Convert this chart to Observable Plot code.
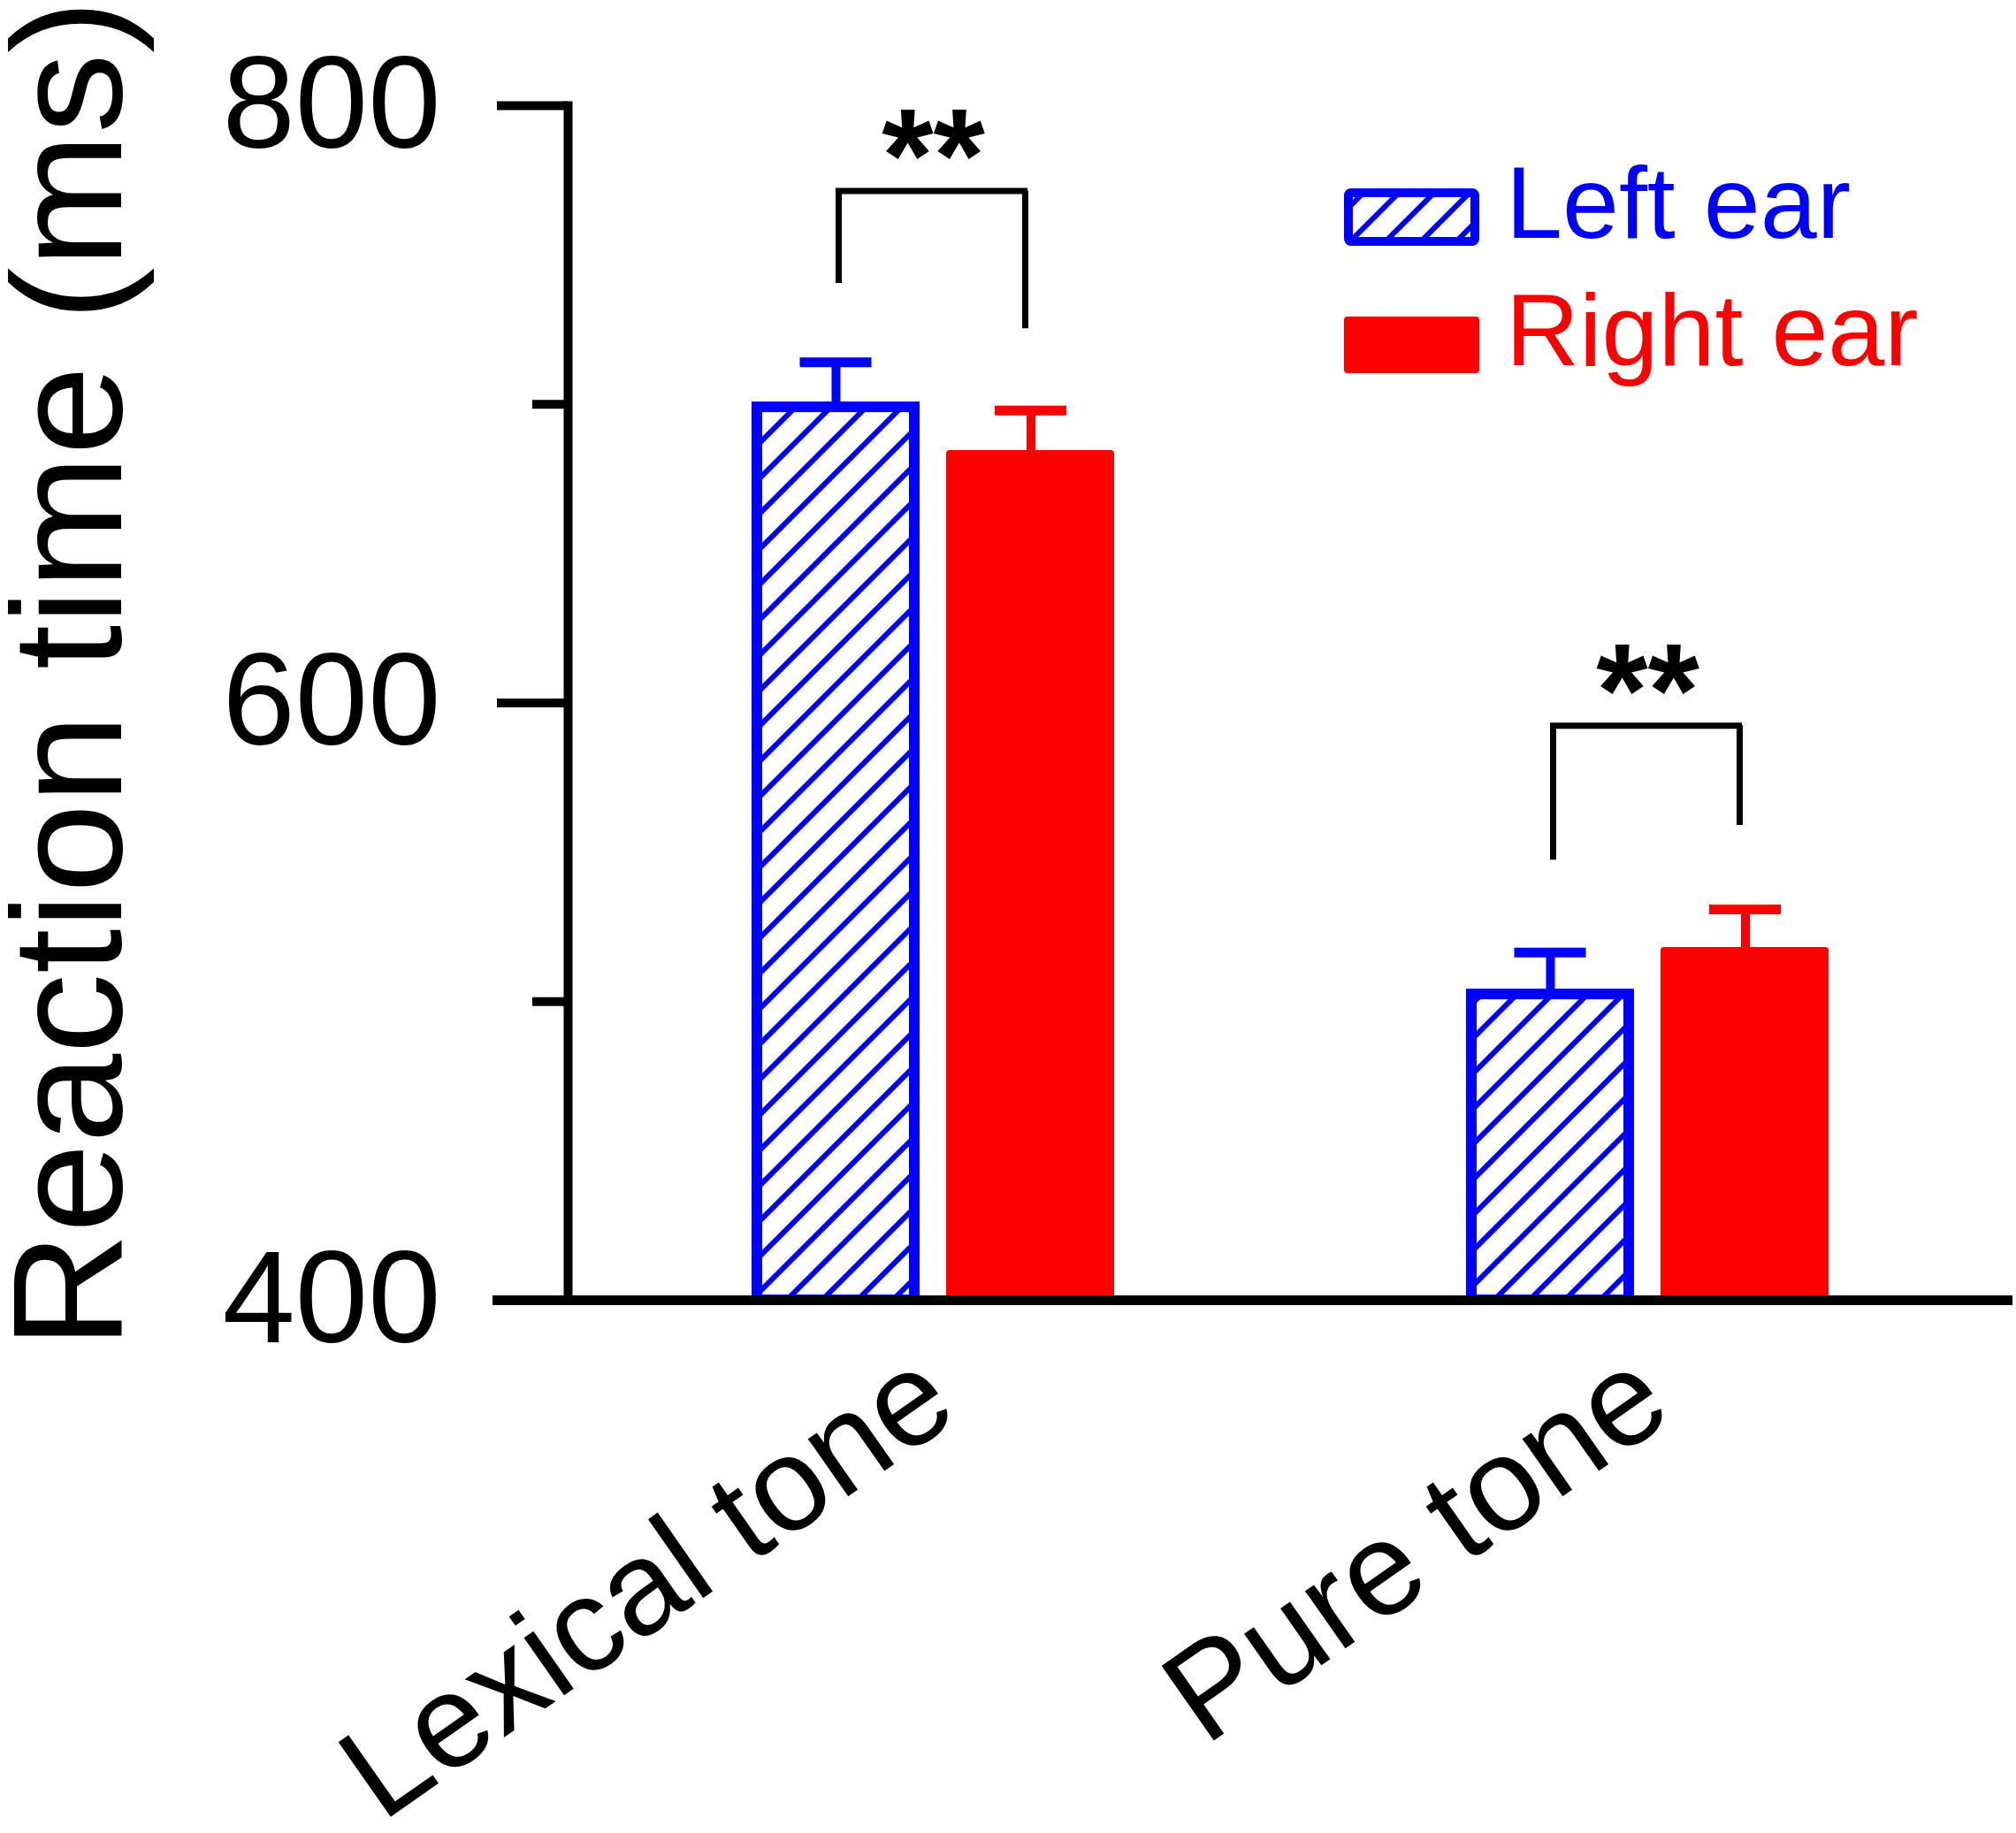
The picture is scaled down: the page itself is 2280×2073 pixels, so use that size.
<!DOCTYPE html>
<html>
<head>
<meta charset="utf-8">
<script src="https://cdn.jsdelivr.net/npm/d3@7"></script>
<script src="https://cdn.jsdelivr.net/npm/@observablehq/plot@0.6"></script>
<style>
  html, body { margin: 0; padding: 0; background: #fff; overflow: hidden; }
</style>
</head>
<body>
<div id="chart"></div>
<script>
// ---- data ----
const categories = ["Lexical tone", "Pure tone"];
const ears = ["Left ear", "Right ear"];
const leftMean = [699.0, 502.4];
const leftSE = [15.1, 14.0];
const rightMean = [684.5, 518.1];
const rightSE = [13.4, 12.8];
const bracketTop = [771.4, 592.4];
const bracketLeftEnd = [740.5, 547.4];
const bracketRightEnd = [725.3, 559.0];
const starY = [782.1, 603.1];
const significance = ["**", "**"];
const yMajorTicks = [400, 600, 800];
const yMinorTicks = [500, 700];
const yLabel = "Reaction time (ms)";

// ---- styles ----
const BLUE = "#0000ff";
const RED = "#ff0000";
const FONT = "Liberation Sans, Arial, Helvetica, sans-serif";

const leftRows = categories.map((c, i) => ({category: c, mean: leftMean[i], top: leftMean[i] + leftSE[i]}));
const rightRows = categories.map((c, i) => ({category: c, mean: rightMean[i], top: rightMean[i] + rightSE[i]}));
const brackets = categories.map((c, i) => ({category: c, top: bracketTop[i], l: bracketLeftEnd[i], r: bracketRightEnd[i], star: starY[i], text: significance[i]}));

const chart = Plot.plot({
  width: 2280,
  height: 2073,
  marginLeft: 642,
  marginRight: 4,
  marginTop: 119,
  marginBottom: 603,
  style: {fontFamily: FONT, background: "white", color: "black"},
  x: {type: "band", domain: categories, paddingInner: 0.492, paddingOuter: 0.256, axis: null},
  y: {domain: [400, 800], axis: null, label: null},
  marks: [
    // bars
    Plot.barY(leftRows, {x: "category", y1: 400, y2: "mean", fill: "url(#hatch)", stroke: BLUE, strokeWidth: 12, insetLeft: 6, insetRight: 226}),
    Plot.barY(rightRows, {x: "category", y1: 400, y2: "mean", fill: RED, insetLeft: 220, insetRight: 0, rx: 4}),
    // error bars
    Plot.ruleX(leftRows, {x: "category", y1: "mean", y2: "top", stroke: BLUE, strokeWidth: 10, dx: -110}),
    Plot.tickY(leftRows, {x: "category", y: "top", stroke: BLUE, strokeWidth: 11, insetLeft: 54.5, insetRight: 274.5}),
    Plot.ruleX(rightRows, {x: "category", y1: "mean", y2: "top", stroke: RED, strokeWidth: 10, dx: 110.5}),
    Plot.tickY(rightRows, {x: "category", y: "top", stroke: RED, strokeWidth: 11, insetLeft: 275, insetRight: 54}),
    // significance brackets
    Plot.ruleX(brackets, {x: "category", y1: "l", y2: "top", stroke: "black", strokeWidth: 7, dx: -107}),
    Plot.ruleX(brackets, {x: "category", y1: "r", y2: "top", stroke: "black", strokeWidth: 7, dx: 104}),
    Plot.tickY(brackets, {x: "category", y: "top", stroke: "black", strokeWidth: 7, strokeLinecap: "square", insetLeft: 98.5, insetRight: 101.5}),
    Plot.text(brackets, {x: "category", y: "star", text: "text", fontSize: 150, fontWeight: "bold", fill: "black"}),
    // axes
    Plot.frame({anchor: "left", stroke: "black", strokeWidth: 10, strokeLinecap: "square"}),
    Plot.frame({anchor: "bottom", stroke: "black", strokeWidth: 11, insetLeft: -80, insetRight: 6}),
    Plot.axisY(yMajorTicks, {tickSize: 80, tickPadding: 64, strokeWidth: 10, fontSize: 148, label: null, tickFormat: d => String(d)}),
    Plot.axisY(yMinorTicks, {tickSize: 40, strokeWidth: 10, fill: "none", label: null}),
    // category labels
    Plot.text(categories, {x: d => d, frameAnchor: "bottom", textAnchor: "end", rotate: -35, dx: 32, dy: 132, fontSize: 150, fill: "black"}),
    // y label
    Plot.text([yLabel], {frameAnchor: "left", rotate: -90, dx: -562, dy: -32.5, fontSize: 176, textAnchor: "middle", fill: "black"})
  ]
});

const svg = d3.select(chart);

// the y label in the figure is slightly elongated along its baseline
svg.selectAll("text").filter(function() { return this.textContent === yLabel; })
  .attr("textLength", 1526).attr("lengthAdjust", "spacingAndGlyphs");

// hatch pattern and legend
const defs = svg.insert("defs", ":first-child");
const pat = defs.append("pattern")
  .attr("id", "hatch")
  .attr("patternUnits", "userSpaceOnUse")
  .attr("width", 40).attr("height", 40);
pat.append("rect").attr("width", 40).attr("height", 40).attr("fill", "white");
pat.append("path")
  .attr("d", "M-10,10L10,-10M0,40L40,0M30,50L50,30")
  .attr("stroke", BLUE).attr("stroke-width", 6).attr("fill", "none");

const legend = svg.append("g").attr("font-family", FONT).attr("text-anchor", "start");
const legendColors = [BLUE, RED];
const swatchY = [218, 358];
const labelY = [269, 413];
ears.forEach((ear, i) => {
  if (i === 0) {
    legend.append("rect").attr("x", 1525).attr("y", swatchY[i]).attr("width", 143).attr("height", 55)
      .attr("rx", 3).attr("fill", "url(#hatch)").attr("stroke", legendColors[i]).attr("stroke-width", 10);
  } else {
    legend.append("rect").attr("x", 1520).attr("y", swatchY[i]).attr("width", 153).attr("height", 64)
      .attr("rx", 4).attr("fill", legendColors[i]);
  }
  legend.append("text").attr("x", 1703).attr("y", labelY[i]).attr("font-size", 115)
    .attr("text-anchor", "start").attr("fill", legendColors[i]).text(ear);
});

document.getElementById("chart").appendChild(chart);
</script>
</body>
</html>
